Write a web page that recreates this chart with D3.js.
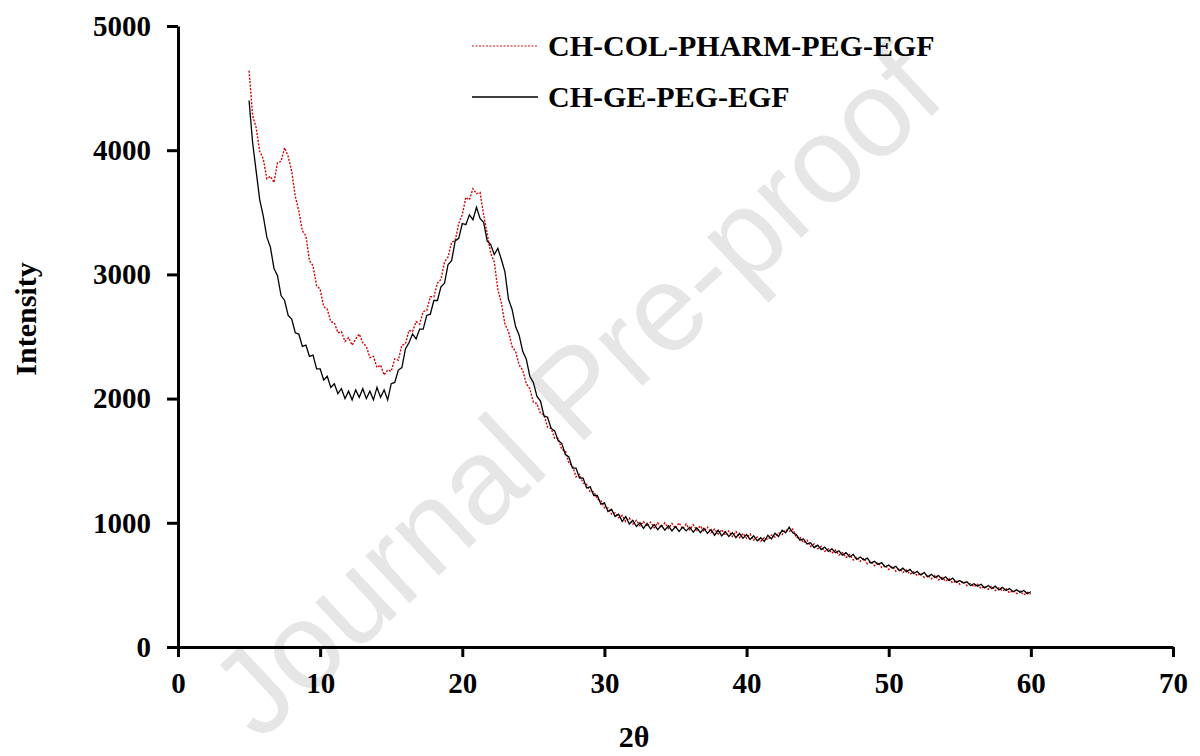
<!DOCTYPE html>
<html>
<head>
<meta charset="utf-8">
<script src="https://d3js.org/d3.v7.min.js"></script>
<style>
body { margin: 0; background: #fff; }
text.lbl { font-family: 'Liberation Serif', 'Times New Roman', serif; font-weight: bold; fill: #000; }
</style>
</head>
<body>
<div id="chart"></div>
<script>

var width = 1200;
var height = 756;
var margin = { left: 178, right: 27, top: 26, bottom: 109 };

// 2θ grid: 5° to 60°, one reading every 0.25°
var angleStart = 5;
var angleStep = 0.25;

// CH-GE-PEG-EGF (black, solid)
var geValues = [
  4400, 4060, 3830, 3600,  3470, 3300, 3220, 3050,  2990, 2830, 2790, 2670,
  2640, 2530, 2520, 2420,  2430, 2340, 2350, 2240,  2240, 2150, 2180, 2090,
  2120, 2040, 2080, 2000,  2060, 1990, 2070, 2010,  2080, 2000, 2060, 1990,
  2090, 2010, 2070, 1990,  2120, 2130, 2230, 2250,  2400, 2450, 2520, 2480,
  2560, 2560, 2670, 2680,  2790, 2790, 2900, 2930,  3080, 3110, 3270, 3290,
  3410, 3400, 3480, 3440,  3540, 3450, 3420, 3270,  3240, 3160, 3210, 3120,
  3020, 2800, 2720, 2580,  2510, 2380, 2320, 2180,  2130, 2020, 1980, 1860,
  1850, 1760, 1740, 1660,  1640, 1550, 1530, 1440,  1440, 1360, 1360, 1280,
  1290, 1220, 1220, 1150,  1160, 1090, 1110, 1050,  1070, 1010, 1050, 990,
  1020, 970, 1000, 955,    995, 950, 985, 945,      980, 940, 975, 935,
  970, 930, 965, 935,      965, 925, 960, 920,      955, 915, 945, 900,
  940, 895, 930, 890,      920, 880, 915, 875,      905, 865, 895, 855,
  880, 850, 900, 870,      915, 890, 940, 920,      965, 920, 905, 860,
  870, 830, 840, 800,      820, 785, 805, 770,      790, 760, 775, 740,
  760, 725, 745, 705,      725, 700, 715, 675,      690, 665, 680, 645,
  660, 635, 650, 615,      635, 605, 625, 590,      610, 580, 600, 565,
  585, 560, 575, 545,      565, 535, 555, 520,      535, 515, 525, 495,
  510, 490, 505, 475,      495, 470, 490, 460,      480, 455, 470, 445,
  460, 440, 455, 430,      445
];

// CH-COL-PHARM-PEG-EGF (red, dotted)
var colValues = [
  4640, 4280, 4180, 3990,  3930, 3770, 3790, 3740,  3900, 3910, 4020, 3950,
  3830, 3630, 3510, 3350,  3310, 3110, 3070, 2910,  2880, 2740, 2720, 2620,
  2610, 2530, 2540, 2460,  2490, 2430, 2480, 2520,  2450, 2420, 2330, 2340,
  2250, 2270, 2190, 2230,  2220, 2320, 2310, 2430,  2440, 2550, 2540, 2620,
  2600, 2700, 2710, 2820,  2820, 2930, 2960, 3100,  3140, 3260, 3270, 3410,
  3480, 3620, 3600, 3690,  3650, 3660, 3480, 3330,  3170, 3100, 2880, 2770,
  2600, 2540, 2420, 2380,  2270, 2230, 2120, 2080,  1970, 1960, 1880, 1870,
  1770, 1760, 1680, 1680,  1590, 1580, 1480, 1460,  1370, 1390, 1320, 1310,
  1250, 1250, 1190, 1180,  1120, 1120, 1070, 1080,  1040, 1060, 1010, 1040,
  990, 1020, 975, 1010,    970, 1005, 960, 1000,    960, 1000, 955, 995,
  955, 1000, 950, 990,     945, 985, 940, 975,      930, 965, 920, 950,
  910, 945, 900, 935,      890, 930, 880, 915,      875, 910, 860, 885,
  850, 880, 865, 900,      885, 920, 905, 945,      930, 950, 880, 885,
  840, 860, 810, 830,      790, 810, 770, 790,      755, 780, 740, 760,
  720, 745, 700, 725,      690, 715, 670, 690,      655, 680, 640, 660,
  625, 650, 610, 630,      600, 620, 585, 605,      575, 595, 560, 580,
  550, 575, 540, 560,      530, 550, 515, 535,      505, 530, 495, 510,
  485, 505, 470, 490,      465, 490, 455, 475,      450, 470, 435, 455,
  430, 450, 420, 440,      425
];

var xTicks = [0, 10, 20, 30, 40, 50, 60, 70];
var yTicks = [0, 1000, 2000, 3000, 4000, 5000];
var seriesNames = ["CH-COL-PHARM-PEG-EGF", "CH-GE-PEG-EGF"];

var svg = d3.select("#chart").append("svg")
  .attr("width", width).attr("height", height)
  .style("display", "block");

var xScale = d3.scaleLinear().domain([0, 70]).range([margin.left, width - margin.right]);
var yScale = d3.scaleLinear().domain([0, 5000]).range([height - margin.bottom, margin.top]);

// watermark
svg.append("text")
  .attr("transform", "translate(582,398) rotate(-43)")
  .attr("text-anchor", "middle")
  .attr("dominant-baseline", "middle")
  .style("font-family", "'Liberation Sans', Arial, sans-serif")
  .style("font-size", "122px")
  .style("fill", "#e6e6e6")
  .text("Journal Pre-proof");

/*** lines ***/
var line = d3.line()
  .x(function (d, i) { return xScale(angleStart + i * angleStep); })
  .y(function (d) { return yScale(d); });

svg.append("path").datum(colValues)
  .attr("d", line)
  .style("fill", "none")
  .style("stroke", "#d50000")
  .style("stroke-width", 1.4)
  .style("stroke-dasharray", "2,1.5");

svg.append("path").datum(geValues)
  .attr("d", line)
  .style("fill", "none")
  .style("stroke", "#000")
  .style("stroke-width", 1.3);

/*** axes ***/
var xAxis = d3.axisBottom(xScale).tickValues(xTicks).tickSize(10).tickSizeOuter(0).tickPadding(15);
var gx = svg.append("g").attr("transform", "translate(0," + yScale(0) + ")").call(xAxis);

var yAxis = d3.axisLeft(yScale).tickValues(yTicks).tickFormat(d3.format("d"))
  .tickSize(11).tickSizeOuter(0).tickPadding(16);
var gy = svg.append("g").attr("transform", "translate(" + xScale(0) + ",0)").call(yAxis);

[gx, gy].forEach(function (g) {
  g.select(".domain").style("stroke", "#000").style("stroke-width", 3);
  g.selectAll(".tick line").style("stroke", "#000").style("stroke-width", 3);
  g.selectAll(".tick text").attr("class", "lbl").style("font-size", "29px");
});

svg.append("text").attr("class", "lbl")
  .attr("transform", "translate(36,319) rotate(-90)")
  .attr("text-anchor", "middle")
  .style("font-size", "30px")
  .text("Intensity");

svg.append("text").attr("class", "lbl")
  .attr("x", 634).attr("y", 747)
  .attr("text-anchor", "middle")
  .style("font-size", "30px")
  .text("2θ");

/*** legend ***/
var legend = svg.append("g");
seriesNames.forEach(function (name, i) {
  var y = 46 + i * 51;
  legend.append("line")
    .attr("x1", 472).attr("x2", 538).attr("y1", y).attr("y2", y)
    .style("stroke", i === 0 ? "#e06060" : "#000")
    .style("stroke-width", 1.4)
    .style("stroke-dasharray", i === 0 ? "2,1.5" : null);
  legend.append("text").attr("class", "lbl")
    .attr("x", 548).attr("y", y + 10)
    .style("font-size", "30px")
    .text(name);
});

</script>
</body>
</html>
